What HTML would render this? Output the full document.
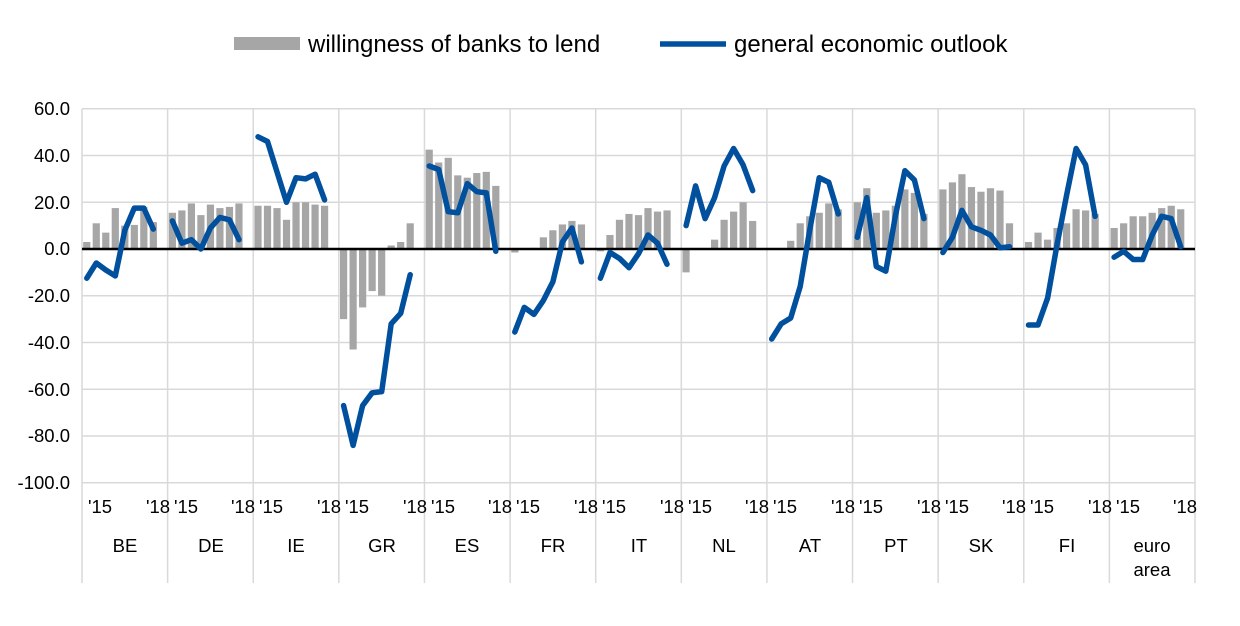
<!DOCTYPE html>
<html><head><meta charset="utf-8"><style>
body{margin:0;background:#fff;}
svg{display:block;font-family:"Liberation Sans",Arial,sans-serif;}
</style></head><body>
<svg id="c" width="1240" height="626" viewBox="0 0 1240 626">
<g font-size="24" fill="#000">
<rect x="234" y="37" width="66" height="13" fill="#a6a6a6"/>
<text x="308" y="52">willingness of banks to lend</text>
<line x1="660" y1="44" x2="726" y2="44" stroke="#00509e" stroke-width="5.5"/>
<text x="734" y="52">general economic outlook</text>
</g>
<g id="grid" stroke="#d9d9d9" stroke-width="1.5"></g>
<g id="bars" fill="#a6a6a6"></g>
<line x1="82" y1="249" x2="1195" y2="249" stroke="#000" stroke-width="2.5"/>
<g id="lines" fill="none" stroke="#00509e" stroke-width="5.5" stroke-linejoin="round" stroke-linecap="round"></g>
<g font-size="18.5" text-anchor="end" fill="#000">
<text x="70" y="115">60.0</text><text x="70" y="162">40.0</text><text x="70" y="209">20.0</text>
<text x="70" y="255">0.0</text><text x="70" y="302">-20.0</text><text x="70" y="349">-40.0</text>
<text x="70" y="396">-60.0</text><text x="70" y="442">-80.0</text><text x="70" y="489">-100.0</text>
</g>
<g font-size="18.5" text-anchor="middle" fill="#000" id="xl">
<text x="125" y="552">BE</text><text x="211" y="552">DE</text><text x="296" y="552">IE</text>
<text x="382" y="552">GR</text><text x="467" y="552">ES</text><text x="553" y="552">FR</text>
<text x="639" y="552">IT</text><text x="724" y="552">NL</text><text x="810" y="552">AT</text>
<text x="896" y="552">PT</text><text x="981" y="552">SK</text><text x="1067" y="552">FI</text>
<text x="1152" y="552">euro</text><text x="1152" y="576">area</text>
<text x="100" y="513">'15</text><text x="158" y="513">'18</text>
<text x="186" y="513">'15</text><text x="243" y="513">'18</text>
<text x="271" y="513">'15</text><text x="329" y="513">'18</text>
<text x="357" y="513">'15</text><text x="415" y="513">'18</text>
<text x="443" y="513">'15</text><text x="500" y="513">'18</text>
<text x="528" y="513">'15</text><text x="586" y="513">'18</text>
<text x="614" y="513">'15</text><text x="672" y="513">'18</text>
<text x="700" y="513">'15</text><text x="757" y="513">'18</text>
<text x="785" y="513">'15</text><text x="843" y="513">'18</text>
<text x="871" y="513">'15</text><text x="929" y="513">'18</text>
<text x="957" y="513">'15</text><text x="1014" y="513">'18</text>
<text x="1042" y="513">'15</text><text x="1100" y="513">'18</text>
<text x="1128" y="513">'15</text><text x="1185" y="513">'18</text>
</g>
</svg>
<script>
var NS="http://www.w3.org/2000/svg";
function el(p,t,a){var e=document.createElementNS(NS,t);for(var k in a)e.setAttribute(k,a[k]);p.appendChild(e);return e;}
function Y(v){return 249-v*2.3375;}
var g=document.getElementById('grid'),b=document.getElementById('bars'),l=document.getElementById('lines');
for(var v=60;v>=-100;v-=20){if(v!==0)el(g,'line',{x1:82,x2:1195,y1:Y(v),y2:Y(v)});}
var gw=(1195-82)/13;
for(var i=0;i<=13;i++){var x=82+gw*i;el(g,'line',{x1:x,x2:x,y1:109,y2:583});}
var B=[[3,11,7,17.5,10,10.3,18,11.5],[15.5,16.5,19.5,14.5,19,17.5,18,19.5],[18.5,18.5,17.5,12.5,20,20,19,18.5],
[-30,-43,-25,-18,-20,1.5,3,11],[42.5,37,39,31.5,30.5,32.5,33,27],[-1.5,0,0.5,5,8,10.5,12,10.5],
[-1,6,12.5,15,14.5,17.5,16,16.5],[-10,0,0,4,12.5,16,20,12],[0,0,3.5,11,14,15.5,19.5,17],
[20,26,15.5,16.5,18.5,25.5,24,15],[25.5,28.5,32,26.5,24.5,26,25,11],[3,7,4,9,11,17,16.5,15],[9,11,14,14,15.5,17.5,18.5,17]];
var L=[[-12.5,-6,-9,-11.5,8,17.5,17.5,8.5],[12,2.5,4,0,9,13.5,12.5,4],[48,46,33,20,30.5,30,32,21],
[-67,-84,-67,-61.5,-61,-32,-27.5,-11],[35.5,34,16,15.5,28,24.5,24,-1],[-35.5,-25,-28,-22,-14,3,9,-5.5],
[-12.5,-1.5,-4,-8,-2,6,2.5,-6.5],[10,27,13,22,35.5,43,36,25],[-38.5,-32,-29.5,-16,8,30.5,28.5,15],
[5,22,-7.5,-9.5,14,33.5,29.5,13],[-1.5,5,16.5,9.5,8,6,0.5,1],[-32.5,-32.5,-21,2,23,43,36,14],[-3.5,-1,-4.5,-4.5,6,14,13,1]];
var sw=gw/9;
for(var c=0;c<13;c++){var pts=[];for(var j=0;j<8;j++){var cx=82+gw*c+sw*(j+0.5);
var v=B[c][j];if(v!==0){var y0=Y(Math.max(v,0)),h=Math.abs(v)*2.3375;el(b,'rect',{x:cx-3.6,y:y0,width:7.2,height:h});}
pts.push(cx.toFixed(1)+','+Y(L[c][j]).toFixed(1));}
el(l,'polyline',{points:pts.join(' ')});}
</script>
</body></html>
